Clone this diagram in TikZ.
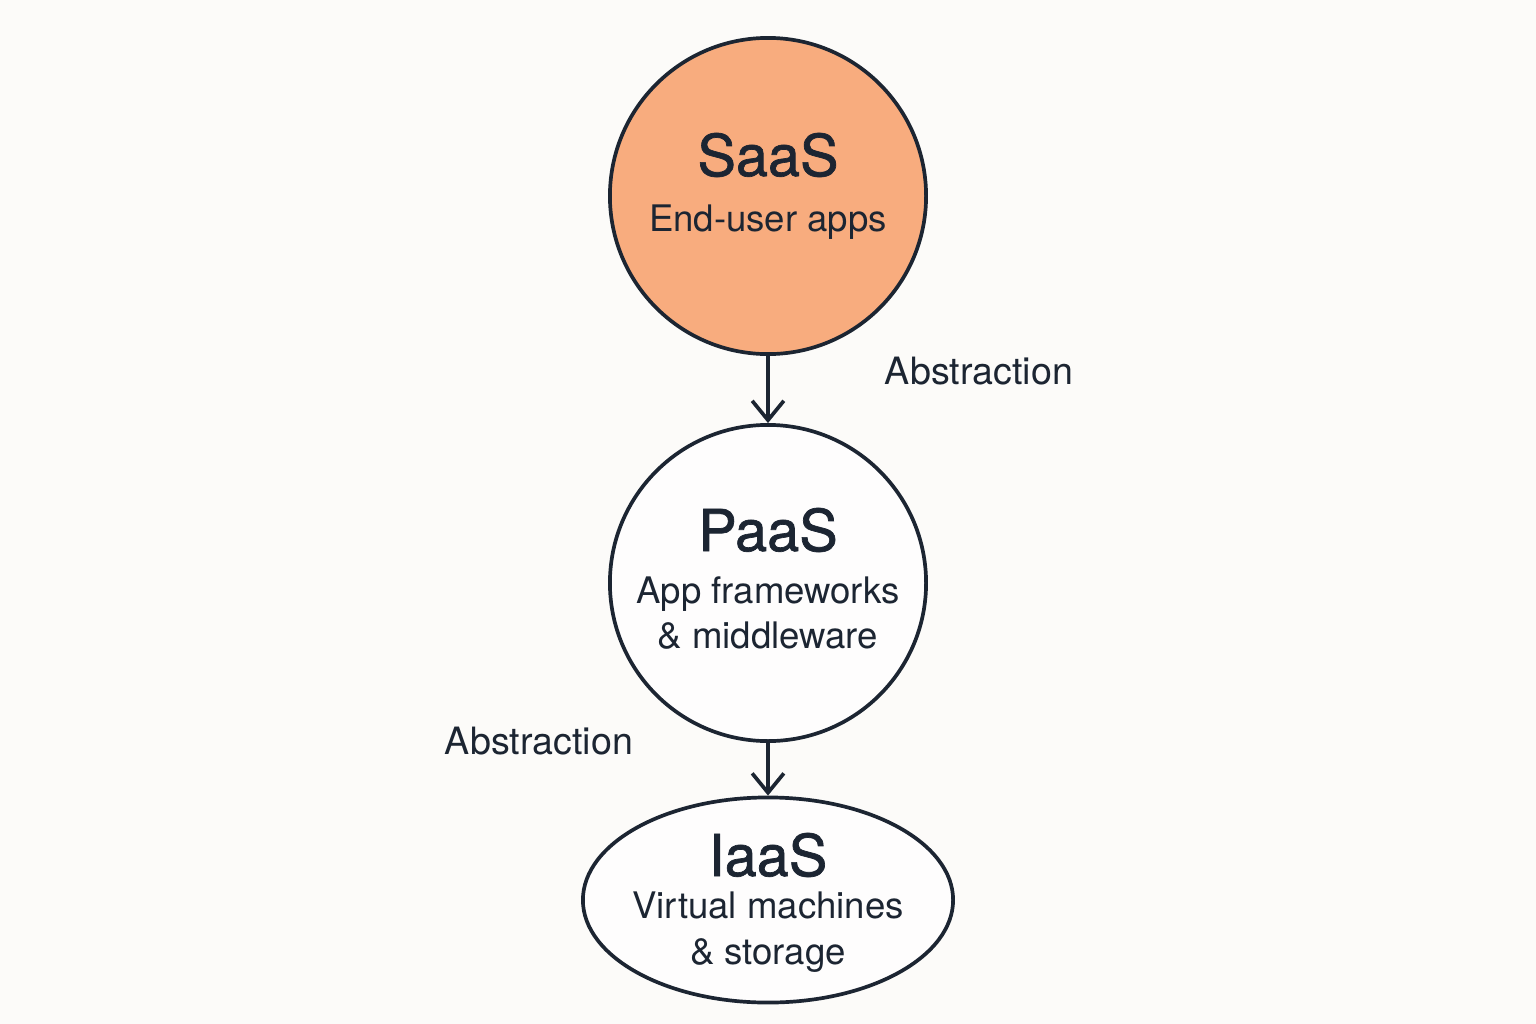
\documentclass[tikz,border=0pt]{standalone}
\usepackage{fontspec}
\setmainfont{TeX Gyre Heros}
\newfontfamily\titlefont[FakeBold=1.2]{TeX Gyre Heros}
\usetikzlibrary{shapes.geometric,arrows.meta}
\definecolor{ink}{HTML}{1C2532}
\definecolor{saasfill}{HTML}{F8AC7E}
\definecolor{bg}{HTML}{FCFBF9}
\tikzset{
  layer/.style={draw=ink, line width=1.05pt, inner sep=0pt},
  title/.style={text=ink, font=\titlefont\fontsize{16.4}{18}\selectfont, inner sep=0pt},
  sub/.style={text=ink, font=\fontsize{10.4}{13}\selectfont, inner sep=0pt, align=center},
  lab/.style={text=ink, font=\fontsize{10.7}{13}\selectfont, inner sep=0pt},
  conn/.style={draw=ink, line width=1.05pt, -{Straight Barb[length=5.5pt,width=9pt,line width=1.05pt]}},
}
\begin{document}
\begin{tikzpicture}[x=0.01cm,y=-0.01cm]
\fill[bg] (0,0) rectangle (1536,1024);
\useasboundingbox (0,0) rectangle (1536,1024);
\node[layer, circle, fill=saasfill, minimum size=3.16cm] (saas) at (768,196) {};
\node[layer, circle, fill=white!60!bg, minimum size=3.16cm] (paas) at (768,583) {};
\node[layer, ellipse, fill=white!60!bg, minimum width=3.70cm, minimum height=2.05cm] (iaas) at (768,900) {};
\node[title] (saast) at (768,155) {SaaS};
\node[sub] (saass) at (768,222) {End-user apps};
\node[title] (paast) at (768,530) {PaaS};
\node[sub] (paass) at (768,613) {App frameworks\\\& middleware};
\node[title] (iaast) at (768,855) {IaaS};
\node[sub] (iaass) at (768,932) {Virtual machines\\\& storage};
\draw[conn] (saas.south) -- (paas.north);
\draw[conn] (paas.south) -- (iaas.north);
\node[lab] (ab1) at (979,371) {Abstraction};
\node[lab] (ab2) at (539,741) {Abstraction};
\end{tikzpicture}
\end{document}
